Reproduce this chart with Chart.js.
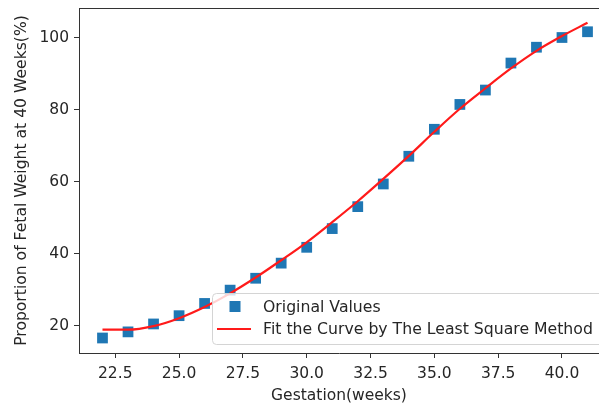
<!DOCTYPE html>
<html>
<head>
<meta charset="utf-8">
<script src="https://cdn.jsdelivr.net/npm/chart.js@4.4.1/dist/chart.umd.min.js"></script>
<style>
  html, body { margin: 0; padding: 0; background: #fff; overflow: hidden; }
  #wrap { width: 599px; height: 405px; }
</style>
</head>
<body>
<div id="wrap"><canvas id="chart" width="599" height="405"></canvas></div>
<script>
// gestation weeks
const weeks = [22, 23, 24, 25, 26, 27, 28, 29, 30, 31, 32, 33, 34, 35, 36, 37, 38, 39, 40, 41]
// measured proportion (%)
const original = [16.6, 18.3, 20.5, 22.8, 26.2, 29.9, 33.2, 37.4, 41.8, 47.0, 53.1, 59.4, 67.1, 74.6, 81.5, 85.5, 93.0, 97.4, 100.1, 101.7]
// least square fit
const fitted = [18.9, 18.9, 19.9, 22.1, 25.2, 29.0, 33.4, 38.2, 43.2, 48.8, 54.6, 60.8, 67.2, 73.9, 80.3, 86.0, 91.5, 96.4, 100.5, 104.2]

const xTicks = [22.5, 25.0, 27.5, 30.0, 32.5, 35.0, 37.5, 40.0]
const yTicks = [20, 40, 60, 80, 100]

const FONT = "DejaVu Sans"
const INK = "#262626"

const toPoints = (ys) => weeks.map((w, i) => ({ x: w, y: ys[i] }))

// matplotlib style frame top + legend box inside the axes
const frameAndLegend = {
    id: "frameAndLegend",
    afterDatasetsDraw(chart) {
        const { ctx, chartArea } = chart
        ctx.save()
        ctx.strokeStyle = "#333"
        ctx.lineWidth = 1
        ctx.beginPath()
        ctx.moveTo(chartArea.left, chartArea.top + 0.5)
        ctx.lineTo(chartArea.right, chartArea.top + 0.5)
        ctx.stroke()

        // legend box
        const bx = 212.5, by = 293.5, bw = 420, bh = 51, r = 4
        ctx.beginPath()
        ctx.moveTo(bx + r, by)
        ctx.lineTo(bx + bw, by)
        ctx.lineTo(bx + bw, by + bh)
        ctx.lineTo(bx + r, by + bh)
        ctx.arcTo(bx, by + bh, bx, by + bh - r, r)
        ctx.lineTo(bx, by + r)
        ctx.arcTo(bx, by, bx + r, by, r)
        ctx.closePath()
        ctx.fillStyle = "rgba(255,255,255,0.8)"
        ctx.fill()
        ctx.strokeStyle = "#d4d4d4"
        ctx.stroke()

        const [pts, fit] = chart.data.datasets
        ctx.fillStyle = pts.backgroundColor
        ctx.fillRect(235 - 5.5, 306.5 - 5.5, 11, 11)
        ctx.strokeStyle = fit.borderColor
        ctx.lineWidth = fit.borderWidth
        ctx.beginPath()
        ctx.moveTo(217, 329)
        ctx.lineTo(251, 329)
        ctx.stroke()

        ctx.fillStyle = INK
        ctx.font = `15.7px "${FONT}"`
        ctx.textBaseline = "middle"
        ctx.fillText(pts.label, 263, 308)
        ctx.fillText(fit.label, 263, 330)
        ctx.restore()
    },
}

new Chart(document.getElementById("chart"), {
    type: "scatter",
    data: {
        datasets: [
            {
                label: "Original Values",
                data: toPoints(original),
                pointStyle: "rect",
                pointRadius: 7.6,
                pointHoverRadius: 7.6,
                backgroundColor: "#1f77b4",
                borderColor: "#1f77b4",
                borderWidth: 0,
                order: 2,
            },
            {
                label: "Fit the Curve by The Least Square Method",
                data: toPoints(fitted),
                showLine: true,
                pointRadius: 0,
                borderColor: "#ff1a1a",
                backgroundColor: "#ff1a1a",
                borderWidth: 2.2,
                cubicInterpolationMode: "monotone",
                order: 1,
            },
        ],
    },
    options: {
        responsive: false,
        animation: false,
        events: [],
        layout: { autoPadding: false, padding: { top: 8, left: 0, right: 0, bottom: 0 } },
        plugins: {
            legend: { display: false },
            tooltip: { enabled: false },
        },
        scales: {
            x: {
                type: "linear",
                min: 21.08,
                max: 41.45,
                afterBuildTicks: (s) => { s.ticks = xTicks.map((v) => ({ value: v })) },
                afterFit: (s) => {
                    s.height = 52
                    s.paddingLeft = 0
                    s.paddingRight = 0
                },
                ticks: {
                    color: INK,
                    font: { family: FONT, size: 15.5 },
                    padding: 7,
                    maxRotation: 0,
                    callback: (v) => Number(v).toFixed(1),
                },
                grid: { drawOnChartArea: false, drawTicks: true, tickLength: 5, color: "#333" },
                border: { color: "#333", width: 1 },
                title: {
                    display: true,
                    text: "Gestation(weeks)",
                    color: INK,
                    font: { family: FONT, size: 15.5, lineHeight: 1.2 },
                    padding: { top: 0, bottom: 0 },
                },
            },
            y: {
                type: "linear",
                min: 12.43,
                max: 108.3,
                afterBuildTicks: (s) => { s.ticks = yTicks.map((v) => ({ value: v })) },
                afterFit: (s) => {
                    s.width = 79
                    s.paddingTop = 0
                    s.paddingBottom = 0
                },
                ticks: {
                    color: INK,
                    font: { family: FONT, size: 15.5 },
                    padding: 5,
                },
                grid: { drawOnChartArea: false, drawTicks: true, tickLength: 5, color: "#333" },
                border: { color: "#333", width: 1 },
                title: {
                    display: true,
                    text: "Proportion of Fetal Weight at 40 Weeks(%)",
                    color: INK,
                    font: { family: FONT, size: 15.6, lineHeight: 1.2 },
                    padding: { top: 13, bottom: 0 },
                },
            },
        },
    },
    plugins: [frameAndLegend],
})
</script>
</body>
</html>
